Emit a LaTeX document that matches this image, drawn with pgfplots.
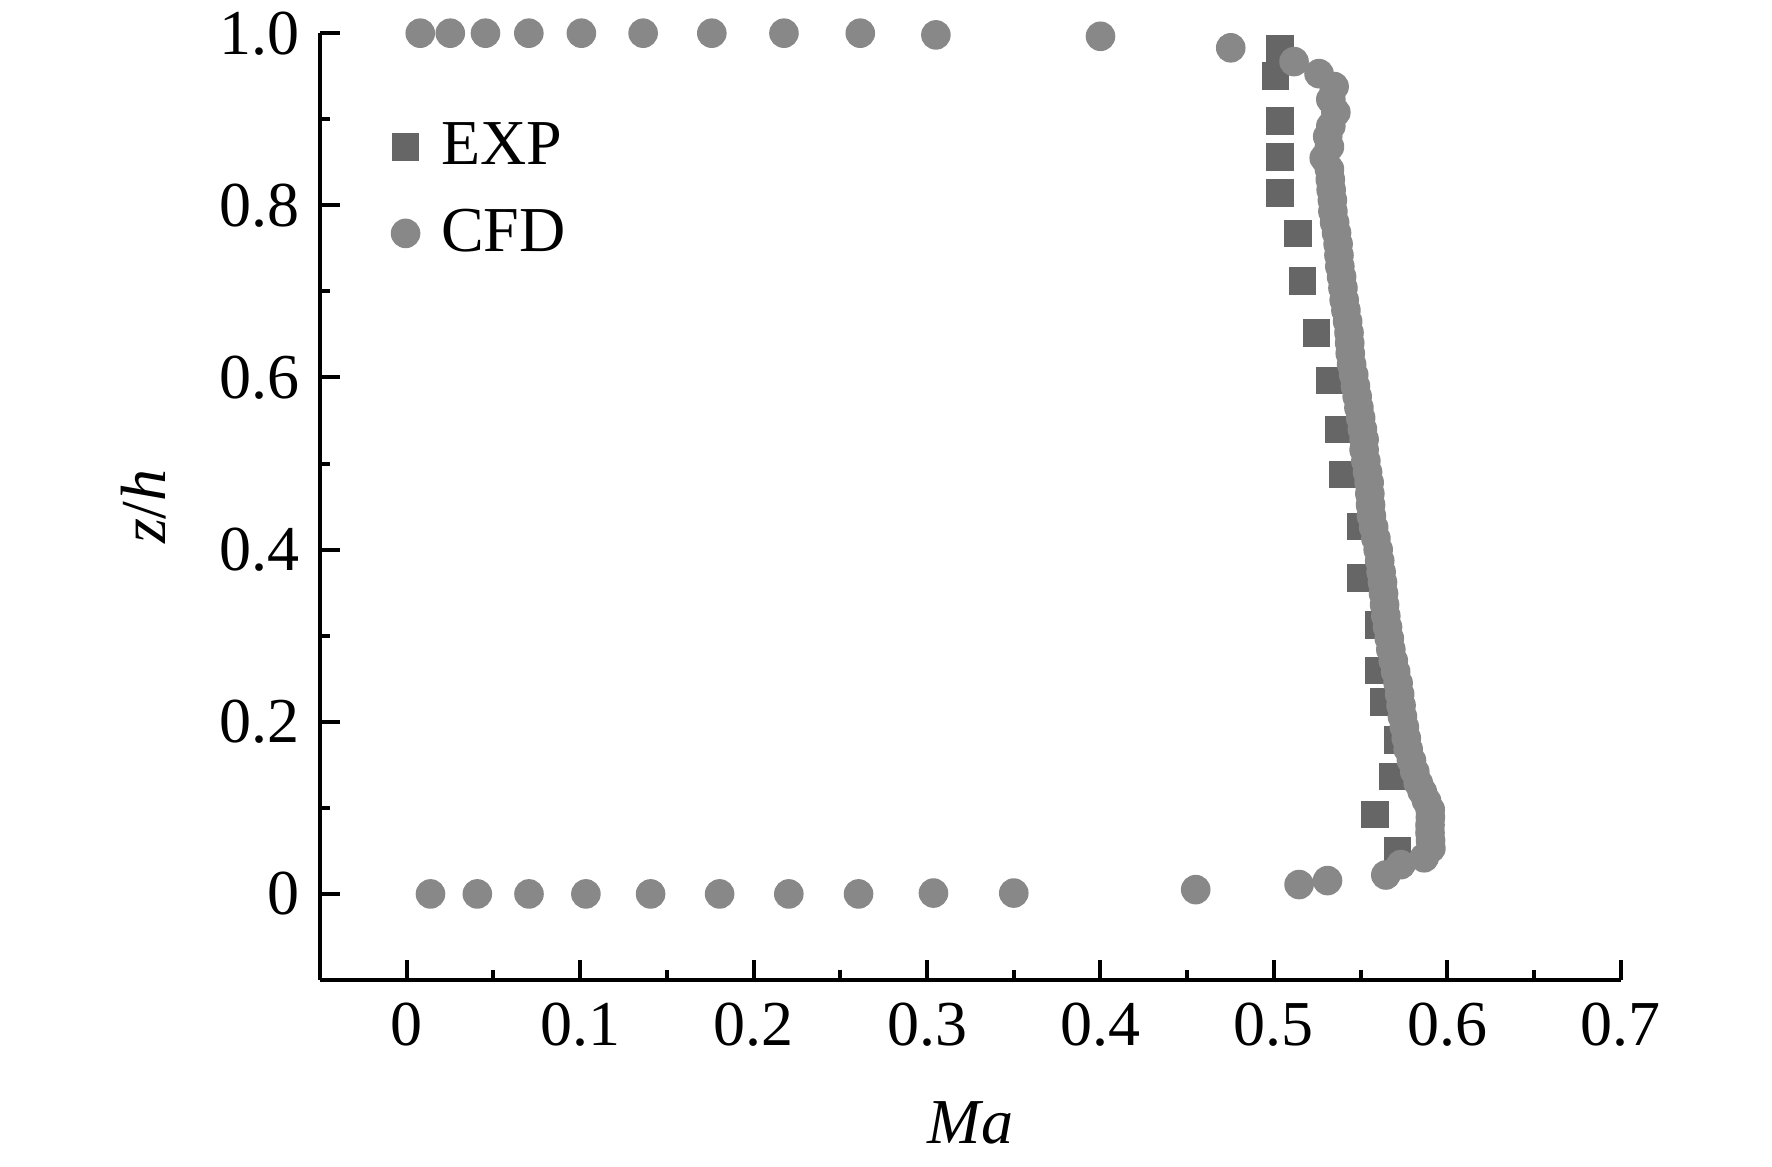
\documentclass[border=0pt]{standalone}
\usepackage{fontspec}
\setmainfont{Liberation Serif}
\usepackage{pgfplots}
\pgfplotsset{compat=1.18}
\definecolor{expc}{HTML}{666666}
\definecolor{cfdc}{HTML}{888888}
\begin{document}
\begin{tikzpicture}
\begin{axis}[
  at={(80pt,46.5pt)}, anchor=south west,
  scale only axis, width=325.2pt, height=236.7pt,
  xmin=-0.05, xmax=0.7, ymin=-0.1, ymax=1.0,
  axis lines*=left,
  axis line style={line width=1.1pt},
  clip=false,
  tick align=inside,
  major tick length=5pt, minor tick length=2.5pt,
  every tick/.style={line width=1pt, black},
  xtick={0,0.1,0.2,0.3,0.4,0.5,0.6,0.7},
  xticklabels={0,0.1,0.2,0.3,0.4,0.5,0.6,0.7},
  ytick={0,0.2,0.4,0.6,0.8,1.0},
  yticklabels={0,0.2,0.4,0.6,0.8,1.0},
  minor x tick num=1, minor y tick num=1,
  /pgf/number format/assume math mode=true,
  tick label style={font=\fontsize{16}{19}\selectfont},
  xticklabel shift=2.2pt, yticklabel shift=1.5pt,
  xlabel={\textit{Ma}}, ylabel={\textit{z}/\textit{h}},
  label style={font=\fontsize{16}{19}\selectfont},
  xlabel style={at={(rel axis cs:0.5,-0.1732)}, anchor=base},
  ylabel style={at={(rel axis cs:-0.1184,0.5)}, anchor=base},
  legend style={at={(axis cs:-0.0092,0.906)}, anchor=north west, draw=none, fill=none,
    inner xsep=0pt, inner ysep=0pt, row sep=5.6pt, column sep=3.4pt,
    font=\fontsize{16}{19}\selectfont, cells={anchor=west}},
  legend image code/.code={\draw[mark repeat=2,mark phase=2,#1] plot coordinates {(0cm,0cm) (0.25cm,0cm) (0.6cm,0cm)};},
]
\addplot[only marks, mark=square*, mark size=3.25pt, color=expc, mark options={draw=expc, fill=expc, rounded corners=0.8pt}] coordinates {
(0.5035,0.9818) (0.5009,0.9500) (0.5035,0.8977) (0.5035,0.8563) (0.5035,0.8145)
(0.5139,0.7675) (0.5164,0.7118) (0.5245,0.6518) (0.5322,0.5967) (0.5372,0.5394)
(0.5399,0.4872) (0.5501,0.4271) (0.5501,0.3671) (0.5607,0.3121) (0.5607,0.2594)
(0.5632,0.2230) (0.5713,0.1785) (0.5684,0.1366) (0.5582,0.0921) (0.5713,0.0503)
};
\addlegendentry{EXP}
\addplot[only marks, mark=*, mark size=3.5pt, color=cfdc, mark options={draw=cfdc, fill=cfdc}] coordinates {
(0.0078,1.0) (0.0251,1.0) (0.0454,1.0) (0.0704,1.0) (0.1007,1.0) (0.1363,1.0)
(0.1759,1.0) (0.2175,1.0) (0.2615,1.0) (0.3051,0.998) (0.4000,0.9964) (0.4751,0.983)
(0.5116,0.967) (0.5260,0.953) (0.5347,0.938) (0.5328,0.923) (0.5357,0.908) (0.5328,0.892)
(0.5310,0.880) (0.5320,0.868) (0.5290,0.855) (0.5320,0.842) (0.5325,0.830) (0.5330,0.818)
(0.5337,0.806) (0.5340,0.793) (0.5350,0.780) (0.5361,0.768) (0.5370,0.755) (0.5375,0.742)
(0.5380,0.729) (0.5390,0.717) (0.5398,0.704) (0.5405,0.690) (0.5415,0.678) (0.5425,0.665)
(0.5433,0.652) (0.5437,0.640) (0.5440,0.628) (0.5448,0.615) (0.5460,0.603) (0.5470,0.590)
(0.5480,0.578) (0.5490,0.565) (0.5500,0.553) (0.5510,0.540) (0.5520,0.528) (0.5520,0.516)
(0.5530,0.503) (0.5540,0.490) (0.5549,0.478) (0.5553,0.465) (0.5557,0.452) (0.5562,0.439)
(0.5575,0.426) (0.5588,0.413) (0.5601,0.400) (0.5610,0.387) (0.5618,0.374) (0.5626,0.362)
(0.5632,0.349) (0.5638,0.336) (0.5645,0.323) (0.5655,0.310) (0.5665,0.297) (0.5674,0.284)
(0.5688,0.271) (0.5702,0.258) (0.5716,0.245) (0.5725,0.232) (0.5733,0.219) (0.5741,0.206)
(0.5752,0.194) (0.5763,0.181) (0.5774,0.168) (0.5793,0.155) (0.5812,0.142) (0.5832,0.129)
(0.5855,0.119) (0.5880,0.108) (0.5901,0.098) (0.5902,0.089) (0.5900,0.080) (0.5900,0.071)
(0.5903,0.062) (0.5905,0.053) (0.5866,0.042) (0.5732,0.034) (0.5645,0.022)
(0.5309,0.0155) (0.5145,0.0109) (0.4549,0.005) (0.3500,0.001) (0.3037,0.001)
(0.2605,0.0) (0.2203,0.0) (0.1804,0.0) (0.1406,0.0) (0.1033,0.0) (0.0705,0.0)
(0.0407,0.0) (0.0137,0.0)
};
\addlegendentry{CFD}
\end{axis}
\pgfresetboundingbox
\path (0,0) rectangle (443pt,291.5pt);
\end{tikzpicture}
\end{document}
